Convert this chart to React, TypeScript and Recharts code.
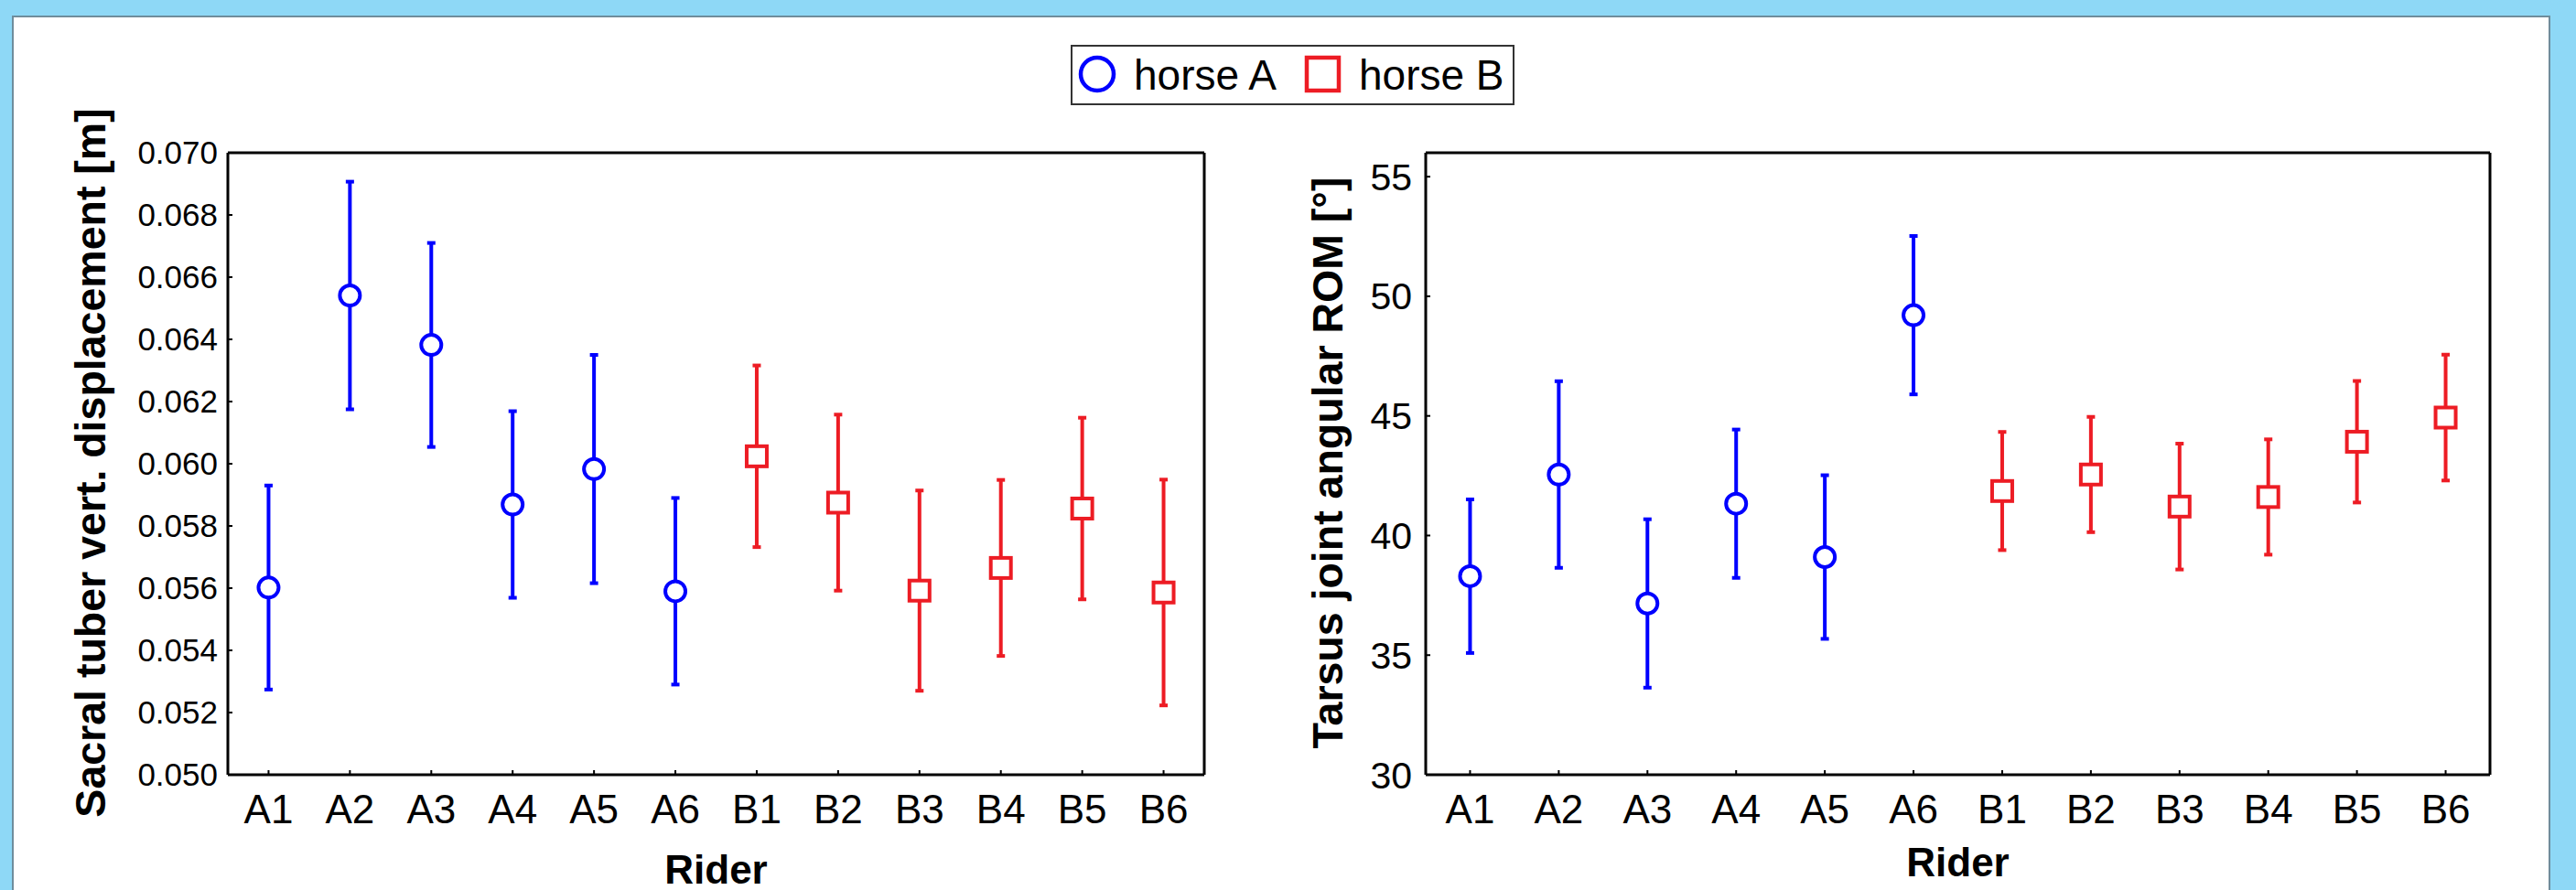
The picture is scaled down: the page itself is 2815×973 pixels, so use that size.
import React from 'react';
import { ScatterChart, Scatter, XAxis, YAxis, ErrorBar, Legend, Label } from 'recharts';

// ---------- data ----------
const RIDERS = ['A1', 'A2', 'A3', 'A4', 'A5', 'A6', 'B1', 'B2', 'B3', 'B4', 'B5', 'B6'];
const HORSE_A_RIDERS = ['A1', 'A2', 'A3', 'A4', 'A5', 'A6'];
const HORSE_B_RIDERS = ['B1', 'B2', 'B3', 'B4', 'B5', 'B6'];
const SERIES_NAMES = ['horse A', 'horse B'];

const SACRAL_A_MEAN = [0.05602, 0.06541, 0.06382, 0.05869, 0.05983, 0.0559];
const SACRAL_A_CI = [0.00328, 0.00366, 0.00328, 0.003, 0.00367, 0.003];
const SACRAL_B_MEAN = [0.06024, 0.05875, 0.05592, 0.05665, 0.05856, 0.05586];
const SACRAL_B_CI = [0.00292, 0.00283, 0.00322, 0.00283, 0.00292, 0.00363];

const TARSUS_A_MEAN = [38.3, 42.55, 37.16, 41.33, 39.1, 49.21];
const TARSUS_A_CI = [3.21, 3.9, 3.52, 3.1, 3.42, 3.31];
const TARSUS_B_MEAN = [41.86, 42.55, 41.21, 41.61, 43.92, 44.93];
const TARSUS_B_CI = [2.47, 2.41, 2.63, 2.41, 2.54, 2.63];

const X_TICKS = [1, 2, 3, 4, 5, 6, 7, 8, 9, 10, 11, 12];
const SACRAL_TICKS = [0.05, 0.052, 0.054, 0.056, 0.058, 0.06, 0.062, 0.064, 0.066, 0.068, 0.07];
const TARSUS_TICKS = [30, 35, 40, 45, 50, 55];
const RIGHT_MINOR_TICKS = [32, 34, 36, 38, 40, 42, 44, 46, 48, 50, 52, 54];

const SACRAL_TITLE = 'Sacral tuber vert. displacement [m]';
const TARSUS_TITLE = 'Tarsus joint angular ROM [\u00b0]';
const X_TITLE = 'Rider';

// ---------- styles ----------
const BLUE = '#0000ff';
const RED = '#ed1c24';
const FONT = '"Liberation Sans", Arial, Helvetica, sans-serif';
const AXIS_LINE = { stroke: '#000', strokeWidth: 3 };
const TICK_LINE = { stroke: '#000', strokeWidth: 2 };

const rows = (riders: string[], mean: number[], ci: number[]) =>
  riders.map((r, i) => ({ x: RIDERS.indexOf(r) + 1, rider: r, y: mean[i], err: ci[i] }));

const CircleShape = (p: any) => (
  <circle cx={p.cx} cy={p.cy} r={11} fill="#fff" stroke={BLUE} strokeWidth={4} />
);
const SquareShape = (p: any) => (
  <rect x={p.cx - 11} y={p.cy - 11} width={22} height={22} fill="#fff" stroke={RED} strokeWidth={4} />
);

const LegendBox = (props: any) => {
  const payload = (props.payload || []).filter((e: any) => SERIES_NAMES.includes(e.value));
  const items = payload.length ? payload.map((e: any) => e.value) : SERIES_NAMES;
  return (
    <svg width={485} height={66} style={{ display: 'block' }}>
      <rect x={1} y={1} width={483} height={64} fill="#fff" stroke="#333" strokeWidth={2} />
      {items.map((name: string, i: number) => {
        const ox = i * 246;
        return (
          <g key={name}>
            {name === SERIES_NAMES[0] ? (
              <circle cx={ox + 29} cy={32} r={18} fill="#fff" stroke={BLUE} strokeWidth={4.5} />
            ) : (
              <rect x={ox + 12} y={14} width={35} height={36} fill="#fff" stroke={RED} strokeWidth={4.5} />
            )}
            <text x={ox + 69} y={49} fontFamily={FONT} fontSize={46} fill="#000">
              {name}
            </text>
          </g>
        );
      })}
    </svg>
  );
};

type PanelProps = {
  width: number;
  marginLeft: number;
  marginRight: number;
  yDomain: [number, number];
  yTicks: number[];
  yFormat: (v: number) => string;
  yFontSize: number;
  yTickMargin: number;
  dataA: any[];
  dataB: any[];
  yTitle: string;
  yTitleX: number;
  riderX: number;
  riderY: number;
  showLegend?: boolean;
};

function Panel(p: PanelProps) {
  return (
    <ScatterChart
      width={p.width}
      height={973}
      margin={{ top: 166, right: p.marginRight, bottom: 0, left: p.marginLeft }}
    >
      <XAxis
        xAxisId="bottom"
        dataKey="x"
        type="number"
        domain={[0.5, 12.5]}
        allowDataOverflow
        ticks={X_TICKS}
        interval={0}
        tickFormatter={(v: number) => RIDERS[v - 1]}
        height={126}
        axisLine={AXIS_LINE}
        tickLine={TICK_LINE}
        tickSize={-5}
        tickMargin={27}
        tick={{ fontSize: 44, fill: '#000', fontFamily: FONT }}
      >
        <Label
          content={() => (
            <text x={p.riderX} y={p.riderY} textAnchor="middle" fontFamily={FONT} fontWeight="bold" fontSize={44} fill="#000">
              {X_TITLE}
            </text>
          )}
        />
      </XAxis>
      <XAxis
        xAxisId="top"
        orientation="top"
        type="number"
        domain={[0.5, 12.5]}
        allowDataOverflow
        ticks={X_TICKS}
        interval={0}
        height={1}
        tick={false}
        tickSize={-5}
        axisLine={AXIS_LINE}
        tickLine={TICK_LINE}
      />
      <YAxis
        yAxisId="left"
        dataKey="y"
        type="number"
        domain={p.yDomain}
        allowDataOverflow
        ticks={p.yTicks}
        interval={0}
        tickFormatter={p.yFormat}
        width={200}
        axisLine={AXIS_LINE}
        tickLine={TICK_LINE}
        tickSize={-5}
        tickMargin={p.yTickMargin}
        tick={{ fontSize: p.yFontSize, fill: '#000', fontFamily: FONT }}
      >
        <Label
          content={() => (
            <text
              x={p.yTitleX}
              y={506}
              transform={`rotate(-90 ${p.yTitleX} 506)`}
              textAnchor="middle"
              fontFamily={FONT}
              fontWeight="bold"
              fontSize={46.5}
              fill="#000"
            >
              {p.yTitle}
            </text>
          )}
        />
      </YAxis>
      <YAxis
        yAxisId="right"
        orientation="right"
        type="number"
        domain={[30, 56]}
        allowDataOverflow
        ticks={RIGHT_MINOR_TICKS}
        interval={0}
        width={1}
        tick={false}
        tickSize={-5}
        axisLine={AXIS_LINE}
        tickLine={TICK_LINE}
      />
      <Scatter
        name={SERIES_NAMES[0]}
        data={p.dataA}
        xAxisId="bottom"
        yAxisId="left"
        fill={BLUE}
        stroke={BLUE}
        shape={CircleShape}
        isAnimationActive={false}
      >
        <ErrorBar dataKey="err" direction="y" width={4.5} strokeWidth={4} stroke={BLUE} isAnimationActive={false} />
      </Scatter>
      <Scatter
        name={SERIES_NAMES[1]}
        data={p.dataB}
        xAxisId="bottom"
        yAxisId="left"
        fill={RED}
        stroke={RED}
        shape={SquareShape}
        isAnimationActive={false}
      >
        <ErrorBar dataKey="err" direction="y" width={4.5} strokeWidth={4} stroke={RED} isAnimationActive={false} />
      </Scatter>
      {p.showLegend && (
        <Legend
          layout="vertical"
          align="center"
          verticalAlign="middle"
          width={485}
          height={66}
          wrapperStyle={{ left: 1170, top: 49, width: 485, height: 66, zIndex: 10 }}
          content={LegendBox}
        />
      )}
    </ScatterChart>
  );
}

export default function App() {
  return (
    <div
      style={{
        position: 'absolute',
        left: 0,
        top: 0,
        width: 2815,
        height: 973,
        background: '#8ed8f6',
        overflow: 'hidden',
      }}
    >
      <div
        style={{
          position: 'absolute',
          left: 13,
          top: 17,
          width: 2770,
          height: 1000,
          border: '2px solid #6f8d9c',
          background: '#fff',
        }}
      />
      <div style={{ position: 'absolute', left: 0, top: 0 }}>
        <Panel
          width={1340}
          marginLeft={49}
          marginRight={23}
          yDomain={[0.05, 0.07]}
          yTicks={SACRAL_TICKS}
          yFormat={(v: number) => v.toFixed(3)}
          yFontSize={35}
          yTickMargin={16}
          dataA={rows(HORSE_A_RIDERS, SACRAL_A_MEAN, SACRAL_A_CI)}
          dataB={rows(HORSE_B_RIDERS, SACRAL_B_MEAN, SACRAL_B_CI)}
          yTitle={SACRAL_TITLE}
          yTitleX={114.5}
          riderX={782.5}
          riderY={966}
          showLegend
        />
      </div>
      <div style={{ position: 'absolute', left: 1340, top: 0 }}>
        <Panel
          width={1400}
          marginLeft={18}
          marginRight={18}
          yDomain={[30, 56]}
          yTicks={TARSUS_TICKS}
          yFormat={(v: number) => String(v)}
          yFontSize={41}
          yTickMargin={20}
          dataA={rows(HORSE_A_RIDERS, TARSUS_A_MEAN, TARSUS_A_CI)}
          dataB={rows(HORSE_B_RIDERS, TARSUS_B_MEAN, TARSUS_B_CI)}
          yTitle={TARSUS_TITLE}
          yTitleX={127}
          riderX={799.5}
          riderY={958}
        />
      </div>
    </div>
  );
}
